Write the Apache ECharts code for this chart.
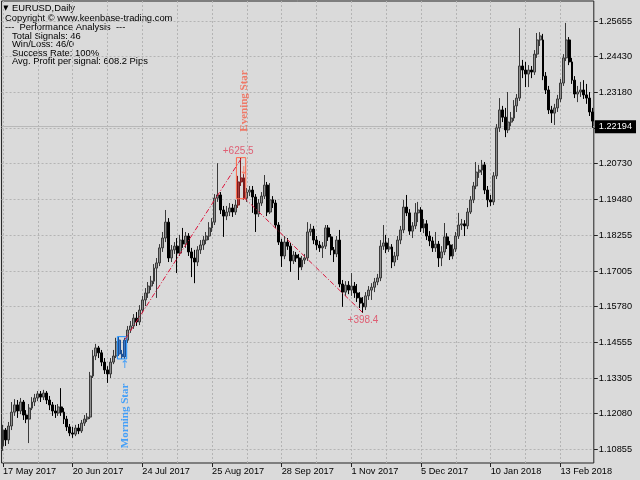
<!DOCTYPE html>
<html><head><meta charset="utf-8">
<script src="https://cdn.jsdelivr.net/npm/echarts@6/dist/echarts.min.js"></script>
<style>html,body{margin:0;padding:0;background:#dadada}#c{width:640px;height:480px}</style>
</head><body><div id="c"></div>
<script>
const opens = [1.1096,1.1151,1.1117,1.1165,1.1213,1.1238,1.1217,1.1248,1.1203,1.1189,
1.1227,1.1248,1.1262,1.1276,1.1265,1.1279,1.1255,1.1238,1.1217,1.1210,
1.1231,1.1213,1.1189,1.1162,1.1141,1.1137,1.1158,1.1148,1.1175,1.1189,
1.1196,1.1338,1.1407,1.1435,1.1418,1.1386,1.1359,1.1345,1.1386,1.1407,
1.1462,1.1414,1.1404,1.1462,1.1497,1.1511,1.1538,1.1525,1.1566,1.1601,
1.1625,1.1649,1.1666,1.1711,1.1729,1.1781,1.1815,1.1870,1.1746,1.1774,
1.1787,1.1763,1.1808,1.1794,1.1822,1.1767,1.1746,1.1732,1.1774,1.1791,
1.1808,1.1822,1.1850,1.1870,1.1953,1.1964,1.1912,1.1891,1.1905,1.1919,
1.1905,1.1929,1.2009,1.2023,1.1953,1.1974,1.1981,1.1957,1.1898,1.1936,
1.1960,1.1998,1.1905,1.1947,1.1936,1.1860,1.1801,1.1753,1.1801,1.1787,
1.1736,1.1756,1.1746,1.1715,1.1739,1.1746,1.1836,1.1846,1.1808,1.1791,
1.1781,1.1787,1.1850,1.1819,1.1774,1.1760,1.1808,1.1656,1.1628,1.1652,
1.1635,1.1649,1.1625,1.1608,1.1590,1.1577,1.1615,1.1635,1.1645,1.1663,
1.1677,1.1787,1.1798,1.1777,1.1784,1.1732,1.1753,1.1808,1.1843,1.1922,
1.1902,1.1839,1.1857,1.1902,1.1912,1.1850,1.1864,1.1822,1.1805,1.1781,
1.1794,1.1746,1.1767,1.1819,1.1791,1.1753,1.1777,1.1822,1.1860,1.1864,
1.1857,1.1905,1.1947,1.1995,1.2043,1.2050,1.2068,1.1981,1.1947,1.1940,
1.2030,1.2196,1.2258,1.2233,1.2189,1.2216,1.2230,1.2272,1.2299,1.2410,
1.2396,1.2382,1.2396,1.2389,1.2451,1.2500,1.2500,1.2375,1.2327,1.2258,
1.2247,1.2265,1.2296,1.2351,1.2438,1.2500,1.2424,1.2361,1.2313,1.2320,
1.2327,1.2310,1.2299,1.2251];
const closes = [1.1151,1.1117,1.1165,1.1213,1.1238,1.1217,1.1248,1.1203,1.1189,1.1227,
1.1248,1.1262,1.1276,1.1265,1.1279,1.1255,1.1238,1.1217,1.1210,1.1231,
1.1213,1.1189,1.1162,1.1141,1.1137,1.1158,1.1148,1.1175,1.1189,1.1196,
1.1338,1.1407,1.1435,1.1418,1.1386,1.1359,1.1345,1.1386,1.1407,1.1456,
1.1414,1.1404,1.1462,1.1497,1.1511,1.1538,1.1525,1.1566,1.1601,1.1625,
1.1649,1.1666,1.1711,1.1729,1.1781,1.1815,1.1870,1.1746,1.1774,1.1787,
1.1763,1.1808,1.1794,1.1822,1.1767,1.1746,1.1732,1.1774,1.1791,1.1808,
1.1822,1.1850,1.1870,1.1953,1.1964,1.1912,1.1891,1.1905,1.1919,1.1905,
1.1929,1.2009,1.2023,1.1953,1.1974,1.1981,1.1957,1.1898,1.1936,1.1960,
1.1998,1.1905,1.1947,1.1936,1.1860,1.1801,1.1753,1.1801,1.1787,1.1736,
1.1756,1.1746,1.1715,1.1739,1.1746,1.1836,1.1846,1.1808,1.1791,1.1781,
1.1787,1.1850,1.1819,1.1774,1.1760,1.1808,1.1656,1.1628,1.1652,1.1635,
1.1649,1.1625,1.1608,1.1590,1.1577,1.1615,1.1635,1.1645,1.1663,1.1677,
1.1787,1.1798,1.1777,1.1784,1.1732,1.1753,1.1808,1.1843,1.1922,1.1902,
1.1839,1.1857,1.1902,1.1912,1.1850,1.1864,1.1822,1.1805,1.1781,1.1794,
1.1746,1.1767,1.1819,1.1791,1.1753,1.1777,1.1822,1.1860,1.1864,1.1857,
1.1905,1.1947,1.1995,1.2043,1.2050,1.2068,1.1981,1.1947,1.1940,1.2030,
1.2196,1.2258,1.2233,1.2189,1.2216,1.2230,1.2272,1.2299,1.2410,1.2396,
1.2382,1.2396,1.2389,1.2451,1.2500,1.2514,1.2375,1.2327,1.2258,1.2247,
1.2265,1.2296,1.2351,1.2438,1.2500,1.2424,1.2361,1.2313,1.2320,1.2327,
1.2310,1.2299,1.2251,1.22194];
const lows = [1.1079,1.1096,1.1103,1.1151,1.1200,1.1193,1.1206,1.1186,1.1175,1.1106,
1.1220,1.1234,1.1251,1.1248,1.1255,1.1241,1.1220,1.1200,1.1193,1.1200,
1.1200,1.1172,1.1148,1.1130,1.1124,1.1130,1.1137,1.1141,1.1165,1.1179,
1.1189,1.1331,1.1393,1.1400,1.1372,1.1345,1.1314,1.1331,1.1379,1.1400,
1.1407,1.1397,1.1397,1.1452,1.1487,1.1501,1.1511,1.1514,1.1556,1.1580,
1.1608,1.1635,1.1656,1.1608,1.1718,1.1767,1.1801,1.1732,1.1732,1.1760,
1.1694,1.1753,1.1781,1.1781,1.1753,1.1680,1.1659,1.1718,1.1760,1.1774,
1.1794,1.1808,1.1836,1.1860,1.1940,1.1898,1.1819,1.1877,1.1891,1.1888,
1.1895,1.1919,1.1995,1.1947,1.1940,1.1960,1.1902,1.1836,1.1888,1.1926,
1.1950,1.1891,1.1898,1.1919,1.1850,1.1791,1.1715,1.1742,1.1774,1.1698,
1.1725,1.1732,1.1670,1.1704,1.1725,1.1736,1.1822,1.1794,1.1774,1.1767,
1.1746,1.1777,1.1805,1.1756,1.1732,1.1749,1.1645,1.1577,1.1615,1.1621,
1.1615,1.1608,1.1594,1.1573,1.1556,1.1566,1.1601,1.1601,1.1628,1.1652,
1.1666,1.1774,1.1763,1.1767,1.1711,1.1718,1.1739,1.1794,1.1832,1.1891,
1.1826,1.1815,1.1846,1.1870,1.1836,1.1832,1.1808,1.1787,1.1767,1.1767,
1.1715,1.1718,1.1756,1.1777,1.1739,1.1742,1.1767,1.1812,1.1843,1.1822,
1.1846,1.1898,1.1936,1.1984,1.2023,1.2033,1.1967,1.1922,1.1926,1.1929,
1.2019,1.2182,1.2216,1.2164,1.2178,1.2202,1.2220,1.2251,1.2289,1.2368,
1.2337,1.2337,1.2368,1.2379,1.2438,1.2479,1.2361,1.2313,1.2244,1.2213,
1.2206,1.2251,1.2285,1.2341,1.2427,1.2413,1.2348,1.2299,1.2285,1.2303,
1.2296,1.2279,1.2237,1.2196];
const highs = [1.1169,1.1158,1.1179,1.1248,1.1258,1.1255,1.1262,1.1255,1.1220,1.1241,
1.1265,1.1276,1.1286,1.1286,1.1290,1.1286,1.1269,1.1248,1.1238,1.1241,
1.1296,1.1227,1.1200,1.1172,1.1162,1.1169,1.1172,1.1186,1.1203,1.1210,
1.1352,1.1428,1.1449,1.1442,1.1428,1.1400,1.1372,1.1400,1.1428,1.1470,
1.1473,1.1428,1.1470,1.1511,1.1528,1.1552,1.1559,1.1583,1.1615,1.1642,
1.1663,1.1684,1.1725,1.1746,1.1794,1.1836,1.1912,1.1884,1.1791,1.1801,
1.1815,1.1826,1.1850,1.1836,1.1832,1.1781,1.1774,1.1787,1.1808,1.1822,
1.1836,1.1870,1.1884,1.1967,1.2074,1.1974,1.1926,1.1926,1.1936,1.1933,
1.1947,1.2030,1.2092,1.2036,1.1988,1.1995,1.1995,1.1967,1.1950,1.1974,
1.2033,1.2009,1.2005,1.1960,1.1947,1.1870,1.1812,1.1822,1.1815,1.1798,
1.1770,1.1767,1.1760,1.1753,1.1760,1.1870,1.1864,1.1857,1.1822,1.1805,
1.1801,1.1860,1.1860,1.1829,1.1784,1.1822,1.1843,1.1670,1.1666,1.1666,
1.1694,1.1663,1.1656,1.1628,1.1611,1.1628,1.1649,1.1659,1.1677,1.1691,
1.1808,1.1860,1.1826,1.1815,1.1794,1.1767,1.1822,1.1857,1.1947,1.1964,
1.1915,1.1870,1.1936,1.1940,1.1922,1.1881,1.1877,1.1839,1.1819,1.1836,
1.1805,1.1787,1.1867,1.1832,1.1805,1.1794,1.1836,1.1902,1.1881,1.1877,
1.1919,1.1960,1.2009,1.2078,1.2068,1.2085,1.2078,1.1995,1.1964,1.2043,
1.2209,1.2299,1.2272,1.2265,1.2320,1.2251,1.2292,1.2313,1.2541,1.2431,
1.2424,1.2413,1.2410,1.2465,1.2524,1.2527,1.2521,1.2389,1.2341,1.2272,
1.2279,1.2310,1.2365,1.2451,1.2559,1.2510,1.2438,1.2375,1.2341,1.2355,
1.2361,1.2348,1.2320,1.2265];

const yTickValues = [1.10855,1.12080,1.13305,1.14555,1.15780,1.17005,1.18255,1.19480,1.20730,1.21955,1.23180,1.24430,1.25655];
const xTickLabels = ['17 May 2017','20 Jun 2017','24 Jul 2017','25 Aug 2017','28 Sep 2017','1 Nov 2017','5 Dec 2017','10 Jan 2018','13 Feb 2018'];
const lastPrice = 1.22194;
const yMin = 1.10371, yMax = 1.26347;

const infoLines = ['EURUSD,Daily','Copyright \u00a9 www.keenbase-trading.com','---  Performance Analysis  ---','Total Signals: 46','Win/Loss: 46/0','Success Rate: 100%','Avg. Profit per signal: 608.2 Pips'];

// signal annotations (bar index, price)
const signalBoxes = [[40, 42, 1.1474, 1.1397], [81, 83, 1.2093, 1.1951]];
const morningBars = [40, 41, 42];
const eveningBars = [81, 82, 83];
const longTrade = [[42, 1.1464], [82, 1.2089]];
const shortTrade = [[83, 1.1955], [124, 1.1556]];
const profitLabels = [['+625.5', 81, 1.2116], ['+398.4', 124, 1.1532]];
const patternNames = [['Morning Star', 42, 1.1200], ['Evening Star', 83, 1.2289]];
const arrows = [['\u2191', 42, 1.1376], ['\u2193', 83, 1.2047]];

// trading-day categories
const months = ['Jan','Feb','Mar','Apr','May','Jun','Jul','Aug','Sep','Oct','Nov','Dec'];
const holidays = ['2017-12-25','2018-01-01'];
const categories = [];
const d = new Date(Date.UTC(2017, 4, 17));
while (categories.length < opens.length) {
  const wd = d.getUTCDay();
  const iso = d.toISOString().slice(0, 10);
  if (wd !== 0 && wd !== 6 && holidays.indexOf(iso) < 0) {
    categories.push(d.getUTCDate() + ' ' + months[d.getUTCMonth()] + ' ' + d.getUTCFullYear());
  }
  d.setUTCDate(d.getUTCDate() + 1);
}

const BLUE = '#1e90ff', TOMATO = '#ff6347', CRIMSON = '#dc143c', LABELRED = '#e0405a';
const FONT = '"Liberation Sans", Arial, sans-serif';

const candleData = opens.map((o, i) => {
  const v = [o, closes[i], lows[i], highs[i]];
  if (morningBars.indexOf(i) >= 0) return {value: v, itemStyle: {color: '#3a78c8', color0: '#1c4f93', borderColor: '#1c4f93', borderColor0: '#1c4f93'}};
  if (eveningBars.indexOf(i) >= 0) return {value: v, itemStyle: {color: '#a84040', color0: '#7a1c1c', borderColor: '#7a1c1c', borderColor0: '#7a1c1c'}};
  return v;
});

const infoX = [12, 5, 5, 12, 12, 12, 12];
const infoY = [8, 18, 27.5, 36, 44.5, 53, 61.5];
const graphics = infoLines.map((t, i) => ({
  type: 'text', x: infoX[i], y: infoY[i], silent: true,
  style: {text: t, fill: '#000', font: '9.4px ' + FONT, verticalAlign: 'middle', align: 'left'}
}));
graphics.push({type: 'text', x: 3, y: 8, style: {text: '\u25BC', fill: '#000', font: '7px "DejaVu Sans"', verticalAlign: 'middle'}});

const textItems = [];
profitLabels.forEach(p => textItems.push({value: [p[1], p[2]], label: {formatter: p[0], color: LABELRED, fontSize: 10, fontFamily: FONT}}));
patternNames.forEach((p, k) => textItems.push({value: [p[1], p[2]], label: {formatter: p[0], color: k === 0 ? BLUE : '#f4604a', fontSize: 11, fontWeight: 'bold', fontFamily: '"Liberation Serif", serif', rotate: 90}}));
arrows.forEach((p, k) => textItems.push({value: [p[1], p[2]], label: {formatter: p[0], color: k === 0 ? BLUE : TOMATO, fontSize: 11, fontFamily: '"DejaVu Sans"'}}));

const chart = echarts.init(document.getElementById('c'), null, {renderer: 'canvas'});
chart.setOption({
  animation: false,
  backgroundColor: '#dadada',
  graphic: graphics,
  grid: {left: 1, right: 46.2, top: 1, bottom: 17, show: true, borderColor: '#222', borderWidth: 1, backgroundColor: 'transparent'},
  xAxis: {
    type: 'category', data: categories, boundaryGap: true,
    axisLine: {show: false},
    axisTick: {show: true, length: 4, alignWithLabel: true, interval: (i, v) => xTickLabels.indexOf(v) >= 0, lineStyle: {color: '#222'}},
    axisLabel: {interval: (i, v) => xTickLabels.indexOf(v) >= 0, align: 'left', margin: 4, fontSize: 9.2, color: '#000', fontFamily: FONT},
    splitLine: {show: true, interval: 11, alignWithLabel: true, lineStyle: {color: '#b4b4b4', type: [2, 2], width: 1}}
  },
  yAxis: {
    type: 'value', position: 'right', min: yMin, max: yMax, scale: true,
    axisLine: {show: false},
    axisTick: {show: true, length: 4, customValues: yTickValues, lineStyle: {color: '#222'}},
    axisLabel: {customValues: yTickValues, formatter: v => v.toFixed(5), margin: 5, fontSize: 9.2, color: '#000', fontFamily: FONT},
    splitLine: {show: true, lineStyle: {color: '#b4b4b4', type: [2, 2], width: 1}}
  },
  series: [
    {
      type: 'candlestick', data: candleData, barWidth: 2.4, z: 3,
      itemStyle: {color: '#8e8e8e', color0: '#000', borderColor: '#3a3a3a', borderColor0: '#000', borderWidth: 1},
      markLine: {
        silent: true, symbol: ['none', 'none'], z: 1,
        lineStyle: {color: '#b8b8b8', type: 'solid', width: 1},
        label: {position: 'end', distance: 1, formatter: () => lastPrice.toFixed(5), backgroundColor: '#000', color: '#fff', padding: [2, 4, 2, 4], fontSize: 9.2, fontFamily: FONT},
        data: [{yAxis: lastPrice}]
      }
    },
    {
      type: 'custom', z: 4, data: signalBoxes, encode: {x: [0, 1], y: [2, 3]},
      renderItem: (params, api) => {
        const p0 = api.coord([api.value(0), api.value(2)]);
        const p1 = api.coord([api.value(1), api.value(3)]);
        const half = api.size([1, 0])[0] * 0.6;
        return {type: 'rect', shape: {x: p0[0] - half, y: p0[1], width: p1[0] - p0[0] + 2 * half, height: p1[1] - p0[1]},
          style: {fill: 'none', stroke: params.dataIndex === 0 ? BLUE : TOMATO, lineWidth: 1}};
      }
    },
    {type: 'line', data: longTrade, symbol: 'none', z: 5, lineStyle: {color: CRIMSON, width: 1, type: [5, 2, 1, 2]}},
    {type: 'line', data: shortTrade, symbol: 'none', z: 5, lineStyle: {color: CRIMSON, width: 1, type: [5, 2, 1, 2]}},
    {type: 'scatter', data: textItems, symbolSize: 0.1, z: 6, itemStyle: {color: 'rgba(0,0,0,0)'},
      label: {show: true, position: 'inside'}}
  ]
});
</script></body></html>
